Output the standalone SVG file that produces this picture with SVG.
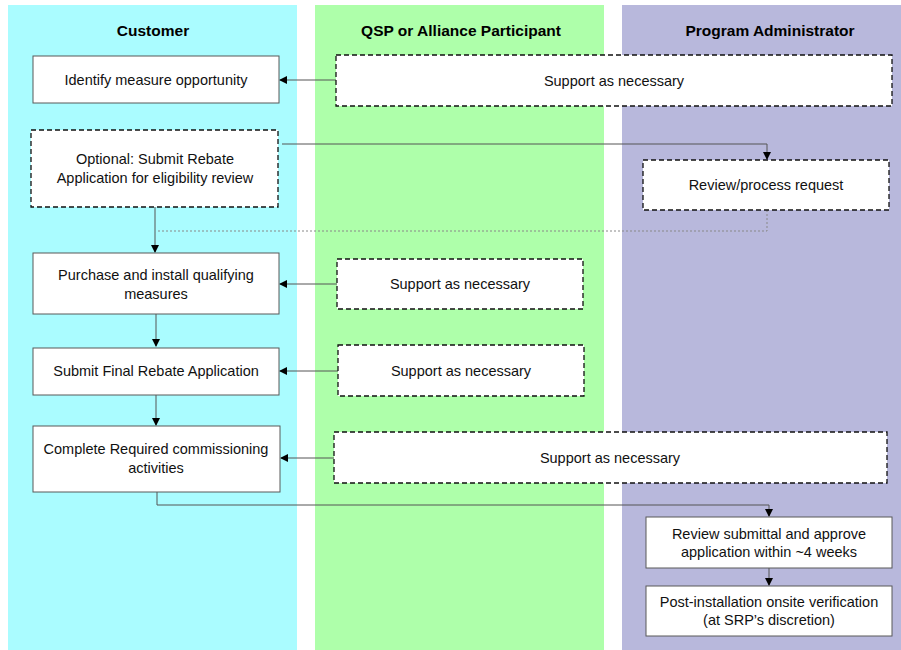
<svg xmlns="http://www.w3.org/2000/svg" width="901" height="650" viewBox="0 0 901 650">
<style>
.lane-title{font-family:"Liberation Sans",Arial,sans-serif;font-weight:bold;font-size:15.5px;fill:#000;text-anchor:middle}
.t{font-family:"Liberation Sans",Arial,sans-serif;font-size:14.5px;fill:#111;text-anchor:middle}
.solid{fill:#fff;stroke:#595959;stroke-width:1}
.dash{fill:#fff;stroke:#111;stroke-width:1.3;stroke-dasharray:5,3}
.conn{fill:none;stroke:#555;stroke-width:1}
.dot{fill:none;stroke:#888;stroke-width:1;stroke-dasharray:2,2}
</style>
<defs>
<marker id="ah" markerWidth="8" markerHeight="8" refX="7" refY="4" orient="auto" markerUnits="userSpaceOnUse">
<path d="M0,0 L8,4 L0,8 Z" fill="#000"/>
</marker>
</defs>
<rect width="901" height="650" fill="#fff"/>
<g id="lanes">
<rect x="8" y="5" width="289" height="645" fill="#aafcff"/>
<rect x="315" y="5" width="289" height="645" fill="#aeffaa"/>
<rect x="622" y="5" width="279" height="645" fill="#b8b8dc"/>
<text class="lane-title" x="153" y="36">Customer</text>
<text class="lane-title" x="461" y="36">QSP or Alliance Participant</text>
<text class="lane-title" x="770" y="36">Program Administrator</text>
</g>
<g id="connectors">
<path class="conn" d="M336,80 H280" marker-end="url(#ah)"/>
<path class="conn" d="M282,144 H767 V159" marker-end="url(#ah)"/>
<path class="conn" d="M155,207 V252" marker-end="url(#ah)"/>
<path class="dot" d="M767,210 V231 H157"/>
<path class="conn" d="M337,284 H280" marker-end="url(#ah)"/>
<path class="conn" d="M156,314 V346" marker-end="url(#ah)"/>
<path class="conn" d="M338,371 H280" marker-end="url(#ah)"/>
<path class="conn" d="M156,395 V425" marker-end="url(#ah)"/>
<path class="conn" d="M334,458 H281" marker-end="url(#ah)"/>
<path class="conn" d="M157,492 V505 H769 V516" marker-end="url(#ah)"/>
<path class="conn" d="M769,568 V585" marker-end="url(#ah)"/>
</g>
<g id="n1"><rect class="solid" x="33" y="56" width="246" height="47"/><text class="t" x="156" y="85">Identify measure opportunity</text></g>
<g id="n2"><rect class="dash" x="336" y="55" width="556" height="51"/><text class="t" x="614" y="86">Support as necessary</text></g>
<g id="n3"><rect class="dash" x="31" y="130" width="247" height="77"/><text class="t" x="155" y="164">Optional: Submit Rebate</text><text class="t" x="155" y="183">Application for eligibility review</text></g>
<g id="n4"><rect class="dash" x="643" y="160" width="246" height="50"/><text class="t" x="766" y="190">Review/process request</text></g>
<g id="n5"><rect class="solid" x="33" y="253" width="246" height="61"/><text class="t" x="156" y="280">Purchase and install qualifying</text><text class="t" x="156" y="299">measures</text></g>
<g id="n6"><rect class="dash" x="337" y="259" width="246" height="50"/><text class="t" x="460" y="289">Support as necessary</text></g>
<g id="n7"><rect class="solid" x="33" y="348" width="246" height="47"/><text class="t" x="156" y="376">Submit Final Rebate Application</text></g>
<g id="n8"><rect class="dash" x="338" y="345" width="246" height="51"/><text class="t" x="461" y="376">Support as necessary</text></g>
<g id="n9"><rect class="solid" x="33" y="426" width="247" height="66"/><text class="t" x="156" y="454">Complete Required commissioning</text><text class="t" x="156" y="473">activities</text></g>
<g id="n10"><rect class="dash" x="334" y="432" width="553" height="51"/><text class="t" x="610" y="463">Support as necessary</text></g>
<g id="n11"><rect class="solid" x="646" y="517" width="246" height="51"/><text class="t" x="769" y="539">Review submittal and approve</text><text class="t" x="769" y="557">application within ~4 weeks</text></g>
<g id="n12"><rect class="solid" x="646" y="586" width="246" height="50"/><text class="t" x="769" y="607">Post-installation onsite verification</text><text class="t" x="769" y="625">(at SRP’s discretion)</text></g>
</svg>
